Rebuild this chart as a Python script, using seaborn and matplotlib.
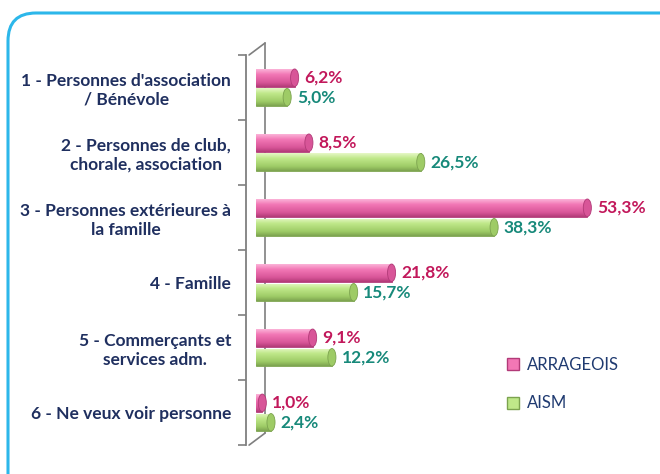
import numpy as np
import pandas as pd
import matplotlib.pyplot as plt
import matplotlib.transforms as mtransforms
import seaborn as sns
from matplotlib.patches import FancyBboxPatch, Ellipse
from matplotlib.colors import to_rgb

# ---------------------------
# Data
# ---------------------------
categories = [
    "1 - Personnes d'association\n/ Bénévole",
    "2 - Personnes de club,\nchorale, association",
    "3 - Personnes extérieures à\nla famille",
    "4 - Famille",
    "5 - Commerçants et\nservices adm.",
    "6 - Ne veux voir personne",
]
series = ["ARRAGEOIS", "AISM"]
arrageois = [6.2, 8.5, 53.3, 21.8, 9.1, 1.0]
aism = [5.0, 26.5, 38.3, 15.7, 12.2, 2.4]

df = pd.DataFrame({
    "Categorie": categories * 2,
    "Groupe": [series[0]] * len(categories) + [series[1]] * len(categories),
    "Valeur": arrageois + aism,
})

# ---------------------------
# Styling
# ---------------------------
sns.set_style("white")
plt.rcParams["font.family"] = ["Lato", "DejaVu Sans"]

pink = "#F070B0"
green = "#B8E580"
navy = "#1F2F5F"
wall = "#7F7F7F"
shades = {
    series[0]: ["#FBB3D8", "#F277B5", "#D85598", "#B23A78"],
    series[1]: ["#E6F8C6", "#BFE889", "#9ECB66", "#7CA34F"],
}
label_colors = {series[0]: "#C2185B", series[1]: "#17897A"}

fig = plt.figure(figsize=(6.6, 4.74), dpi=100)
fig.patch.set_facecolor("white")

# rounded frame around the whole chart
frame = FancyBboxPatch((0.08, -0.4), 7.0, 4.61 + 0.4,
                       boxstyle="round,pad=0,rounding_size=0.28",
                       transform=fig.dpi_scale_trans,
                       facecolor="none", edgecolor="#2CB7EA", linewidth=2.2,
                       zorder=-1)
fig.patches.append(frame)

ax = fig.add_axes([0.388, 0.061, 0.565, 0.823])
ax.set_facecolor("none")

sns.barplot(data=df, y="Categorie", x="Valeur", hue="Groupe",
            order=categories, hue_order=series,
            palette=[pink, green], width=0.6, gap=0.1,
            orient="h", legend=False, ax=ax, zorder=3)

# ---------------------------
# Cylinder look: gradient + end cap
# ---------------------------
for name, container in zip(series, ax.containers):
    cols = np.array([to_rgb(c) for c in shades[name]])
    t = np.linspace(0, 1, 64)
    stops = np.array([0.0, 0.3, 0.75, 1.0])
    grad = np.stack([np.interp(t, stops, cols[:, k]) for k in range(3)], axis=-1)
    grad = grad[:, None, :]
    for p in container.patches:
        x0, y0, w, h = p.get_x(), p.get_y(), p.get_width(), p.get_height()
        p.set_edgecolor(shades[name][3])
        p.set_linewidth(0.6)
        im = ax.imshow(grad, extent=(x0, x0 + w, y0 + h, y0), origin="upper",
                       aspect="auto", zorder=3.5, interpolation="bilinear")
        im.set_clip_path(p)
        cap = Ellipse((x0 + w, y0 + h / 2), width=1.3, height=h,
                      facecolor=shades[name][2], edgecolor=shades[name][3],
                      linewidth=0.6, zorder=4)
        ax.add_patch(cap)

    labels = [f"{v:.1f}%".replace(".", ",") for v in container.datavalues]
    ax.bar_label(container, labels=labels, padding=7, color=label_colors[name],
                 fontsize=12.5, fontweight="bold", zorder=5)

ax.set_xlim(0, 60)
ax.set_ylim(len(categories) - 0.5, -0.5)

# ---------------------------
# Axes: 3D-ish wall on the left
# ---------------------------
for s in ["top", "right", "bottom"]:
    ax.spines[s].set_visible(False)
ax.spines["left"].set_position(("outward", 7))
ax.spines["left"].set_color(wall)
ax.spines["left"].set_linewidth(1.3)
ax.set_xticks([])
ax.set_xlabel("")
ax.set_ylabel("")

ax.set_yticks(np.arange(len(categories) + 1) - 0.5, minor=True)
ax.tick_params(axis="y", which="minor", left=True, length=6, color=wall, width=1.2)
ax.tick_params(axis="y", which="major", left=True, length=0, pad=11)
for lab in ax.get_yticklabels():
    lab.set_multialignment("center")
    lab.set_fontsize(12.5)
    lab.set_fontweight("bold")
    lab.set_color(navy)

# back edge of the wall and the two diagonals
back = ax.transAxes + mtransforms.ScaledTranslation(0.09, 0.12, fig.dpi_scale_trans)
front = ax.transAxes + mtransforms.ScaledTranslation(-0.07, 0, fig.dpi_scale_trans)
ax.plot([0, 0], [0, 1], transform=back, color=wall, lw=1.2,
        clip_on=False, zorder=1)
fig.canvas.draw()
for yy in (0, 1):
    p_front = front.transform((0, yy))
    p_back = back.transform((0, yy))
    fig.add_artist(plt.Line2D([p_front[0], p_back[0]], [p_front[1], p_back[1]],
                              transform=None, color=wall, lw=1.2))

# ---------------------------
# Legend
# ---------------------------
handles = [plt.Rectangle((0, 0), 1, 1, facecolor=shades[n][1],
                         edgecolor=shades[n][3]) for n in series]
fig.legend(handles, series, loc="upper left",
           bbox_to_anchor=(492 / 660, 1 - 342 / 474), frameon=False,
           handlelength=0.7, handleheight=0.7, handletextpad=0.5,
           labelspacing=1.35, fontsize=12, labelcolor="#1F3A70")

fig.savefig("out.png", dpi=100, facecolor="white")
plt.close(fig)
